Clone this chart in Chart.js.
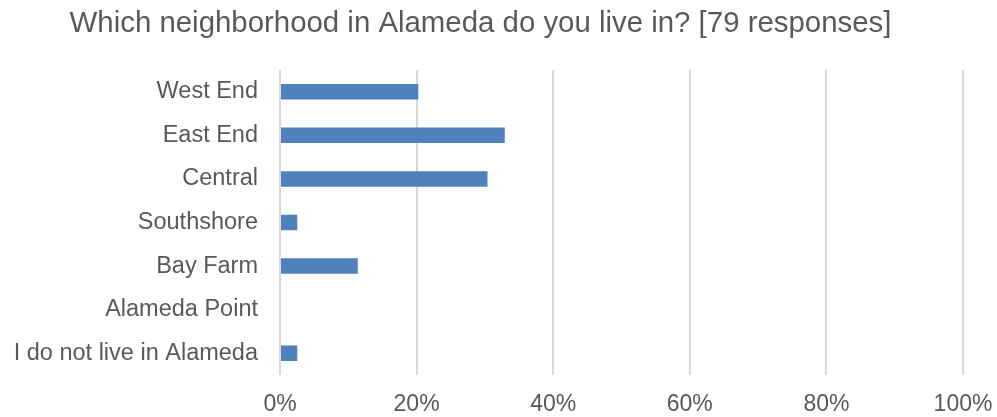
<!DOCTYPE html>
<html>
<head>
<meta charset="utf-8">
<script src="https://cdn.jsdelivr.net/npm/chart.js@4"></script>
<style>
html,body{margin:0;padding:0;background:#fff;}
#wrap{width:997px;height:417px;}
</style>
</head>
<body>
<div id="wrap"><canvas id="c" width="997" height="417"></canvas></div>
<script>
const titleText = "Which neighborhood in Alameda do you live in? [79 responses]";
const categories = ["West End","East End","Central","Southshore","Bay Farm","Alameda Point","I do not live in Alameda"];
const percentValues = [20.25, 32.91, 30.38, 2.53, 11.39, 0, 2.53];
const tickLabels = ["0%","20%","40%","60%","80%","100%"];

const FONT = "'Liberation Sans', Arial, sans-serif";
const TEXT = "#595959";

const titlePlugin = {
  id: 'customTitle',
  afterDraw(chart) {
    const ctx = chart.ctx;
    ctx.save();
    ctx.font = "29.4px " + FONT;
    ctx.fillStyle = TEXT;
    ctx.textAlign = "center";
    ctx.textBaseline = "alphabetic";
    ctx.fillText(titleText, 480.5, 32);
    ctx.restore();
  }
};

new Chart(document.getElementById('c'), {
  type: 'bar',
  data: {
    labels: categories,
    datasets: [{
      data: percentValues,
      backgroundColor: '#4F81BD',
      borderWidth: 0,
      barPercentage: 0.356,
      categoryPercentage: 1.0
    }]
  },
  options: {
    indexAxis: 'y',
    responsive: false,
    animation: false,
    devicePixelRatio: 1,
    layout: { padding: { left: 0, right: 34, top: 70, bottom: 0 } },
    plugins: { legend: { display: false }, title: { display: false }, tooltip: { enabled: false } },
    scales: {
      x: {
        min: 0, max: 100,
        ticks: {
          stepSize: 20,
          color: TEXT,
          font: { family: FONT, size: 23 },
          padding: 16,
          maxRotation: 0,
          callback: (v, i) => tickLabels[i]
        },
        grid: { color: '#d9d9d9', lineWidth: 2, drawTicks: false },
        border: { display: false },
        afterFit(s) { s.height = 42; s.paddingLeft = 0; s.paddingRight = 0; }
      },
      y: {
        ticks: {
          color: TEXT,
          font: { family: FONT, size: 23.5 },
          padding: 22
        },
        grid: { display: false, drawTicks: false },
        border: { display: false },
        afterFit(s) { s.width = 280; s.paddingTop = 0; s.paddingBottom = 0; }
      }
    }
  },
  plugins: [titlePlugin]
});
</script>
</body>
</html>
